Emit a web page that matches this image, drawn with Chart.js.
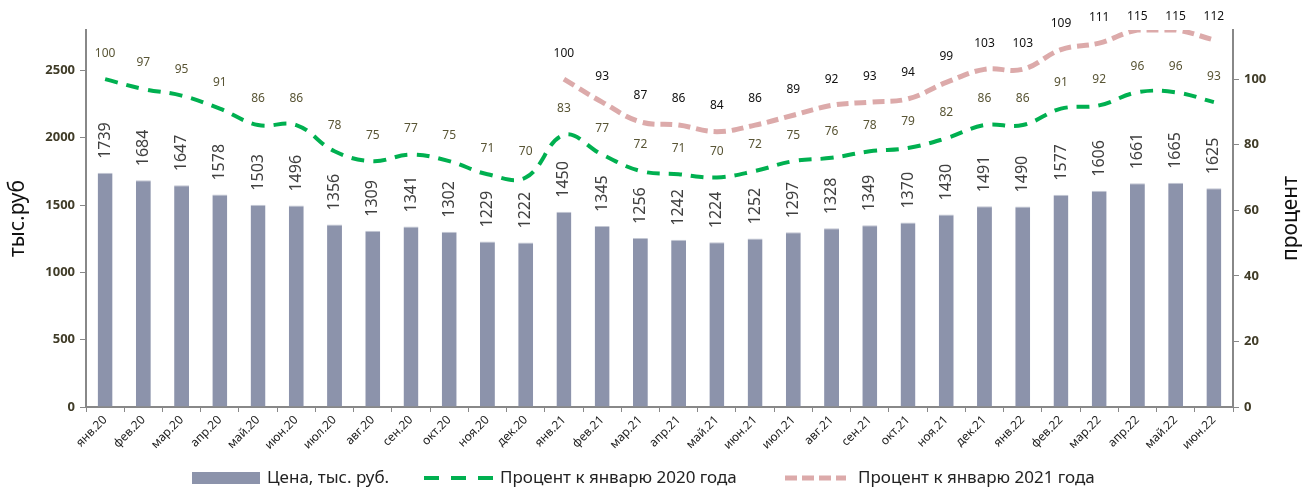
<!DOCTYPE html>
<html>
<head>
<meta charset="utf-8">
<script src="https://cdn.jsdelivr.net/npm/chart.js@4.4.0/dist/chart.umd.min.js"></script>
<style>
  html, body { margin: 0; padding: 0; background: #fff; }
  #wrap { width: 1311px; height: 488px; }
</style>
</head>
<body>
<div id="wrap"><canvas id="priceChart"></canvas></div>
<script>
const months = ['янв.20','фев.20','мар.20','апр.20','май.20','июн.20','июл.20','авг.20','сен.20','окт.20','ноя.20','дек.20',
    'янв.21','фев.21','мар.21','апр.21','май.21','июн.21','июл.21','авг.21','сен.21','окт.21','ноя.21','дек.21',
    'янв.22','фев.22','мар.22','апр.22','май.22','июн.22'];
const price = [1739,1684,1647,1578,1503,1496,1356,1309,1341,1302,1229,1222,
    1450,1345,1256,1242,1224,1252,1297,1328,1349,1370,1430,1491,
    1490,1577,1606,1661,1665,1625];
const pct2020 = [100,97,95,91,86,86,78,75,77,75,71,70,
    83,77,72,71,70,72,75,76,78,79,82,86,
    86,91,92,96,96,93];
const pct2021 = [null,null,null,null,null,null,null,null,null,null,null,null,
    100,93,87,86,84,86,89,92,93,94,99,103,
    103,109,111,115,115,112];
const leftTicks = [0, 500, 1000, 1500, 2000, 2500];
const rightTicks = [0, 20, 40, 60, 80, 100];
const legendNames = ['Цена, тыс. руб.', 'Процент к январю 2020 года', 'Процент к январю 2021 года'];

const FONT = '"Noto Sans", "Open Sans", sans-serif';

// value labels above bars and points
const valueLabels = {
    id: 'valueLabels',
    afterDatasetsDraw(chart) {
        const ctx = chart.ctx;
        ctx.save();
        chart.data.datasets.forEach((ds, i) => {
            const meta = chart.getDatasetMeta(i);
            meta.data.forEach((el, j) => {
                const v = ds.data[j];
                if (v == null) return;
                if (i === 0) {
                    ctx.save();
                    ctx.translate(el.x, el.y - 14);
                    ctx.rotate(-Math.PI / 2);
                    ctx.font = '16px ' + FONT;
                    ctx.fillStyle = '#404040';
                    ctx.textAlign = 'left';
                    ctx.textBaseline = 'middle';
                    ctx.fillText(v, 0, 0);
                    ctx.restore();
                } else {
                    ctx.font = '12px ' + FONT;
                    ctx.fillStyle = i === 1 ? '#595535' : '#111';
                    ctx.textAlign = 'center';
                    ctx.textBaseline = 'middle';
                    ctx.fillText(v, el.x, Math.max(17, el.y - 26));
                }
            });
        });
        ctx.restore();
    }
};

// legend along the bottom and the right axis title (reads bottom to top)
const extras = {
    id: 'extras',
    afterDraw(chart) {
        const ctx = chart.ctx;
        const y = 478;
        ctx.save();
        ctx.font = '17px ' + FONT;
        ctx.textBaseline = 'middle';
        ctx.textAlign = 'left';

        ctx.fillStyle = '#8c93ab';
        ctx.fillRect(192, y - 6, 68, 12);
        ctx.fillStyle = '#222';
        ctx.fillText(legendNames[0], 267, y);

        ctx.strokeStyle = '#00b050';
        ctx.lineWidth = 4;
        ctx.setLineDash([15, 12]);
        ctx.beginPath(); ctx.moveTo(424, y); ctx.lineTo(494, y); ctx.stroke();
        ctx.fillText(legendNames[1], 500, y);

        ctx.strokeStyle = '#dcaaaa';
        ctx.lineWidth = 5;
        ctx.setLineDash([12, 5]);
        ctx.beginPath(); ctx.moveTo(785, y); ctx.lineTo(846, y); ctx.stroke();
        ctx.fillText(legendNames[2], 858, y);

        const area = chart.chartArea;
        ctx.translate(1291, (area.top + area.bottom) / 2);
        ctx.rotate(-Math.PI / 2);
        ctx.font = '21px ' + FONT;
        ctx.fillStyle = '#111';
        ctx.textAlign = 'center';
        ctx.fillText('процент', 0, 0);
        ctx.restore();
    }
};

new Chart(document.getElementById('priceChart'), {
    type: 'bar',
    data: {
        labels: months,
        datasets: [{
            label: legendNames[0],
            data: price,
            backgroundColor: '#8c93ab',
            borderColor: '#c3c7d3',
            borderWidth: { top: 1, left: 0, right: 0, bottom: 0 },
            barPercentage: 0.78,
            categoryPercentage: 0.5,
            yAxisID: 'y',
            order: 3
        }, {
            type: 'line',
            label: legendNames[1],
            data: pct2020,
            borderColor: '#00b050',
            borderWidth: 4,
            borderDash: [13, 9],
            tension: 0.4,
            pointRadius: 0,
            fill: false,
            yAxisID: 'y1',
            order: 2
        }, {
            type: 'line',
            label: legendNames[2],
            data: pct2021,
            borderColor: '#dcaaaa',
            borderWidth: 5,
            borderDash: [12, 6],
            tension: 0.4,
            pointRadius: 0,
            fill: false,
            yAxisID: 'y1',
            order: 1
        }]
    },
    options: {
        responsive: true,
        maintainAspectRatio: false,
        animation: false,
        layout: { padding: { top: 30, bottom: 30, left: 0, right: 0 } },
        plugins: {
            legend: { display: false },
            tooltip: { enabled: false }
        },
        scales: {
            x: {
                grid: { drawOnChartArea: false, offset: true, color: '#888', tickLength: 5 },
                border: { color: '#888', width: 2 },
                ticks: {
                    font: { family: FONT, size: 12 },
                    color: '#222',
                    maxRotation: 45,
                    minRotation: 45,
                    autoSkip: false,
                    padding: 1
                },
                afterFit(scale) { scale.height = 51; }
            },
            y: {
                position: 'left',
                min: 0,
                max: 2800,
                afterBuildTicks(scale) {
                    scale.ticks = leftTicks.map(v => ({ value: v }));
                },
                grid: { drawOnChartArea: false, color: '#888', tickLength: 6 },
                border: { color: '#888', width: 2 },
                ticks: {
                    font: { family: FONT, size: 13, weight: 'bold' },
                    color: '#403c28',
                    padding: 5,
                    callback: v => String(v)
                },
                title: {
                    display: true,
                    text: 'тыс.руб',
                    font: { family: FONT, size: 21 },
                    color: '#111',
                    padding: { top: 5, bottom: 4 }
                },
                afterFit(scale) { scale.width = 86; }
            },
            y1: {
                position: 'right',
                min: 0,
                max: 115,
                afterBuildTicks(scale) {
                    scale.ticks = rightTicks.map(v => ({ value: v }));
                },
                grid: { drawOnChartArea: false, color: '#888', tickLength: 6 },
                border: { color: '#888', width: 2 },
                ticks: {
                    font: { family: FONT, size: 13, weight: 'bold' },
                    color: '#403c28',
                    padding: 5,
                    callback: v => String(v)
                },
                afterFit(scale) { scale.width = 78; }
            }
        }
    },
    plugins: [valueLabels, extras]
});
</script>
</body>
</html>
